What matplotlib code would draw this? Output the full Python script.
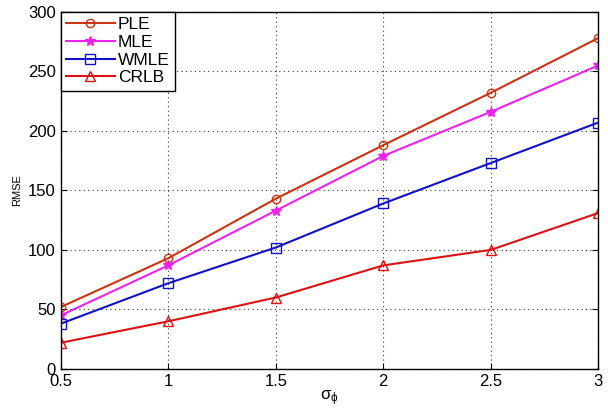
import matplotlib
matplotlib.use("Agg")
import matplotlib.pyplot as plt

sigma = [0.5, 1, 1.5, 2, 2.5, 3]
ple = [52, 93, 143, 188, 232, 278]
mle = [45, 87, 133, 179, 216, 255]
wmle = [38, 72, 102, 139, 173, 207]
crlb = [22, 40, 60, 87, 100, 131]

plt.rcParams['font.family'] = ['Liberation Sans', 'DejaVu Sans']
fig = plt.figure(figsize=(6.08, 4.09), dpi=100)
ax = fig.add_axes([0.1, 0.098, 0.884, 0.873])

ax.plot(sigma, ple, color='#cc3311', marker='o', mfc='none', ms=6, lw=1.5, label='PLE')
ax.plot(sigma, mle, color='#ee22ee', marker='*', ms=7, lw=1.5, label='MLE')
ax.plot(sigma, wmle, color='#1111cc', marker='s', mfc='none', ms=7, lw=1.5, label='WMLE')
ax.plot(sigma, crlb, color='#dd1111', marker='^', mfc='none', ms=7, lw=1.5, label='CRLB')

ax.set_xlim(0.5, 3)
ax.set_ylim(0, 300)
ax.set_xticks([0.5, 1, 1.5, 2, 2.5, 3])
ax.set_xticklabels(['0.5', '1', '1.5', '2', '2.5', '3'])
ax.set_yticks(range(0, 301, 50))
ax.grid(True, linestyle=(0, (1, 3)), color='#333333', lw=0.8)
ax.tick_params(direction='in', labelsize=12, top=False, right=True, length=4)
ax.tick_params(axis='x', pad=4)
for s in ax.spines.values():
    s.set_linewidth(1.0)
ax.set_xlabel(r'$\mathregular{\sigma_\phi}$', fontsize=12, labelpad=-1)
ax.set_ylabel('RMSE', fontsize=8)

leg = ax.legend(loc='upper left', fontsize=12.5, fancybox=False, framealpha=1,
                edgecolor='black', borderaxespad=0, handlelength=2.8,
                labelspacing=0.15, handletextpad=0.2, borderpad=0.3)
leg.get_frame().set_linewidth(1.0)

fig.savefig('out.png', dpi=100)
